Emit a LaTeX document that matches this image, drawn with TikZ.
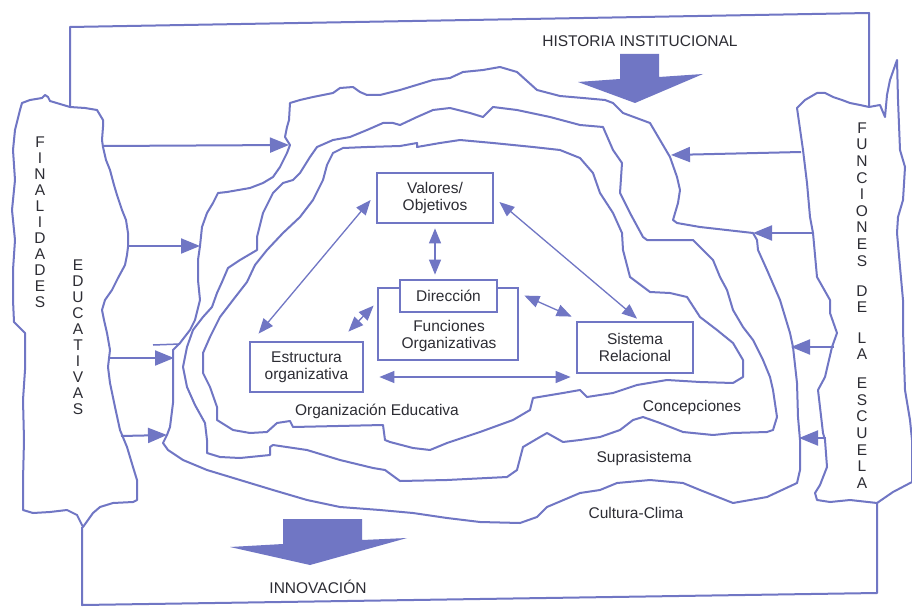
\documentclass[tikz,border=0pt]{standalone}
\usepackage{fontspec}
\setmainfont{Liberation Sans}
\usetikzlibrary{arrows.meta,calc}
\definecolor{ink}{RGB}{112,118,196}
\definecolor{txt}{RGB}{45,45,52}
\begin{document}
\begin{tikzpicture}[x=1pt,y=-1pt,
  outline/.style={draw=ink,line width=2pt,line join=round},
  feed/.style={draw=ink,line width=2pt,-{Triangle[length=19pt,width=15pt]}},
  link/.style={draw=ink,line width=1.3pt,{Triangle[length=15pt,width=12pt]}-{Triangle[length=15pt,width=12pt]}},
  txtfont/.style={text=txt,font=\fontsize{15.5}{17}\selectfont},
  box/.style={draw=ink,line width=2.8pt,fill=white,align=center,inner sep=0pt,txtfont},
  label/.style={txtfont,inner sep=0pt,align=center},
  letter/.style={txtfont,inner sep=0pt},
  bigarrow/.style={fill=ink}]

\useasboundingbox (0,0) rectangle (912,607);
\fill[white] (0,0) rectangle (912,607);

% outer frame
\draw[outline] (70,107) -- (70,27) -- (869,13) -- (869,107);
\draw[outline] (82,527) -- (82,605) -- (877,593) -- (877,503);

% left column: finalidades educativas
\draw[outline,fill=white] (22,103) -- (30,100) -- (42,98) -- (45,95) -- (48,97) -- (50,101) -- (60,104) -- (70,107) -- (85,108) -- (97,110) -- (103,120) -- (103,127) -- (102,140) -- (103,147) -- (106,160) -- (110,170) -- (114,185) -- (117,195) -- (122,210) -- (126,220) -- (128,233) -- (128,247) -- (127,255) -- (125,265) -- (118,278) -- (112,290) -- (105,300) -- (102,310) -- (104,320) -- (107,333) -- (110,350) -- (108,367) -- (110,383) -- (115,407) -- (120,430) -- (127,447) -- (133,467) -- (137,480) -- (137,500) -- (133,502) -- (113,503) -- (100,507) -- (93,513) -- (83,527) -- (77,515) -- (67,510) -- (50,512) -- (33,513) -- (23,510) -- (23,480) -- (24,440) -- (23,400) -- (25,370) -- (25,333) -- (14,322) -- (13,300) -- (13,270) -- (15,240) -- (12,210) -- (15,180) -- (13,150) -- (15,130) -- (20,110) -- cycle;

% right column: funciones de la escuela
\draw[outline,fill=white] (797,108) -- (805,100) -- (817,93) -- (825,93) -- (833,97) -- (842,100) -- (850,103) -- (860,105) -- (869,107) -- (880,105) -- (885,117) -- (887,95) -- (890,80) -- (897,60) -- (898,100) -- (900,150) -- (905,167) -- (903,200) -- (898,217) -- (897,233) -- (900,267) -- (903,300) -- (903,330) -- (905,390) -- (910,420) -- (912,440) -- (912,482) -- (893,492) -- (877,503) -- (850,500) -- (830,502) -- (817,500) -- (815,493) -- (820,485) -- (827,467) -- (825,440) -- (823,433) -- (818,390) -- (825,377) -- (832,347) -- (837,333) -- (830,313) -- (830,300) -- (817,277) -- (813,233) -- (810,217) -- (807,183) -- (803,150) -- cycle;

% outer contour (suprasistema)
\draw[outline] (290,103) -- (300,100) -- (313,97) -- (333,93) -- (340,88) -- (353,87) -- (360,92) -- (367,95) -- (380,95) -- (400,90) -- (433,80) -- (450,78) -- (463,72) -- (483,70) -- (500,67) -- (517,72) -- (537,90) -- (560,96) -- (583,98) -- (605,100) -- (613,103) -- (623,113) -- (650,123) -- (660,140) -- (670,157) -- (677,177) -- (680,190) -- (678,203) -- (673,220) -- (677,223) -- (700,227) -- (753,233) -- (757,240) -- (758,250) -- (767,270) -- (780,300) -- (790,333) -- (793,347) -- (797,383) -- (798,417) -- (800,440) -- (800,470) -- (797,483) -- (767,497) -- (733,503) -- (700,490) -- (683,483) -- (650,480) -- (617,483) -- (600,490) -- (580,493) -- (547,507) -- (537,517) -- (520,523) -- (480,522) -- (447,518) -- (413,513) -- (380,510) -- (340,507) -- (307,500) -- (273,490) -- (240,480) -- (207,470) -- (183,460) -- (168,450) -- (163,443) -- (167,435) -- (170,427) -- (173,403) -- (173,370) -- (173,350) -- (180,343) -- (190,330) -- (195,320) -- (200,300) -- (198,280) -- (198,260) -- (200,246) -- (202,227) -- (207,213) -- (213,203) -- (218,193) -- (227,192) -- (250,188) -- (263,183) -- (273,177) -- (280,167) -- (287,153) -- (290,145) -- (285,137) -- (287,127) -- (289,120) -- cycle;
\draw[ink,line width=1.5pt] (153,345) -- (180,344);

% middle contour (concepciones)
\draw[outline] (400,125) -- (417,117) -- (433,110) -- (450,108) -- (470,113) -- (483,117) -- (493,107) -- (517,110) -- (550,117) -- (580,125) -- (603,127) -- (613,150) -- (622,163) -- (620,193) -- (630,213) -- (643,237) -- (647,240) -- (693,240) -- (700,247) -- (713,260) -- (720,277) -- (727,290) -- (733,310) -- (743,327) -- (753,340) -- (763,360) -- (770,377) -- (773,390) -- (777,417) -- (773,430) -- (767,432) -- (733,433) -- (713,435) -- (683,432) -- (660,423) -- (643,417) -- (633,420) -- (620,430) -- (600,437) -- (580,440) -- (563,442) -- (547,433) -- (540,437) -- (523,447) -- (517,470) -- (507,477) -- (447,480) -- (400,481) -- (385,470) -- (373,468) -- (340,460) -- (307,450) -- (273,445) -- (270,447) -- (270,455) -- (240,458) -- (220,457) -- (207,453) -- (207,440) -- (205,423) -- (195,405) -- (187,387) -- (183,367) -- (187,347) -- (193,330) -- (203,317) -- (212,307) -- (217,293) -- (222,282) -- (228,268) -- (240,260) -- (257,250) -- (257,237) -- (263,213) -- (273,193) -- (283,183) -- (293,180) -- (300,173) -- (310,157) -- (317,147) -- (333,140) -- (350,137) -- (367,130) -- (383,123) -- (393,123) -- cycle;

% inner contour (organizacion educativa)
\draw[outline] (460,140) -- (493,143) -- (533,147) -- (560,150) -- (580,158) -- (593,173) -- (600,193) -- (613,213) -- (622,233) -- (623,250) -- (630,277) -- (650,292) -- (670,293) -- (687,297) -- (700,317) -- (717,330) -- (733,343) -- (743,360) -- (743,377) -- (733,383) -- (700,382) -- (667,380) -- (637,385) -- (613,393) -- (587,397) -- (580,390) -- (563,393) -- (533,398) -- (530,410) -- (513,420) -- (480,432) -- (447,443) -- (430,450) -- (413,448) -- (390,442) -- (385,440) -- (383,425) -- (293,427) -- (290,421) -- (277,423) -- (267,432) -- (250,433) -- (233,430) -- (217,420) -- (217,407) -- (210,387) -- (203,373) -- (203,353) -- (210,337) -- (220,317) -- (233,300) -- (247,282) -- (255,265) -- (267,250) -- (283,233) -- (300,217) -- (313,200) -- (323,180) -- (327,165) -- (333,153) -- (343,148) -- (367,147) -- (400,146) -- (417,143) -- (417,147) -- (440,143) -- cycle;

% big block arrows
\fill[bigarrow] (620,54) -- (659,54) -- (659,77) -- (703,74) -- (635,103) -- (578,82) -- (620,79) -- cycle;
\fill[bigarrow] (283,519) -- (362,519) -- (362,540) -- (407,538) -- (310,565) -- (230,547) -- (283,544) -- cycle;
\node[label,anchor=base] (hist) at (640,46.6) {HISTORIA INSTITUCIONAL};
\node[label,anchor=base] (innov) at (318,593.6) {INNOVACIÓN};

% region labels
\node[label,anchor=base] (orged) at (377,415.6) {Organización Educativa};
\node[label,anchor=base] (conc) at (692,411.6) {Concepciones};
\node[label,anchor=base] (supra) at (644,462.6) {Suprasistema};
\node[label,anchor=base] (cult) at (636,518.6) {Cultura-Clima};

% vertical column titles
\foreach \c [count=\i from 0] in {F,I,N,A,L,I,D,A,D,E,S}
  \node[letter] (fin\i) at (40,{142+16*\i}) {\c};
\foreach \c [count=\i from 0] in {E,D,U,C,A,T,I,V,A,S}
  \node[letter] (edu\i) at (78,{265+16*\i}) {\c};
\foreach \c [count=\i from 0] in {F,U,N,C,I,O,N,E,S}
  \node[letter] (fun\i) at (862,{128+16.6*\i}) {\c};
\foreach \c [count=\i from 0] in {D,E}
  \node[letter] (de\i) at (862,{291+16.6*\i}) {\c};
\foreach \c [count=\i from 0] in {L,A}
  \node[letter] (la\i) at (862,{338+16.6*\i}) {\c};
\foreach \c [count=\i from 0] in {E,S,C,U,E,L,A}
  \node[letter] (esc\i) at (862,{383+16.67*\i}) {\c};

% boxes
\node[box,minimum width=140pt,minimum height=72pt,text depth=0pt] (fun) at (448,324) {};
\node[label] (funtxt) at (449,336) {Funciones\\Organizativas};
\node[box,minimum width=97pt,minimum height=32pt] (dir) at (448.5,296) {Dirección};
\node[box,minimum width=116pt,minimum height=50pt] (val) at (435,198) {Valores/\\Objetivos};
\node[box,minimum width=113pt,minimum height=50pt] (est) at (306.5,367) {Estructura\\organizativa};
\node[box,minimum width=116pt,minimum height=51pt] (sis) at (635,347.5) {Sistema\\Relacional};

% relations between boxes
\draw[link] ($(val.west)+(-5,2)$) -- ($(est.north west)+(10,-7)$);
\draw[link] ($(val.south)+(0,4)$) -- ($(val.south |- dir.north)+(0,-4)$);
\draw[link] ($(val.east)+(5,4)$) -- ($(sis.north)+(2,-2)$);
\draw[link] ($(fun.north west)+(-3,19)$) -- ($(est.north east)+(-16,-9)$);
\draw[link] ($(fun.north east)+(5,9)$) -- ($(sis.north west)+(-4,-4)$);
\draw[link] ($(est.east)+(15,10)$) -- ($(sis.west |- est.east)+(-5,10)$);

% influences entering from the columns
\coordinate (fa) at (103,146); \coordinate (ca) at (289,145);
\coordinate (fb) at (128,246); \coordinate (cb) at (200,246);
\coordinate (fc) at (110,358); \coordinate (cc) at (174,358);
\coordinate (fd) at (121,436); \coordinate (cd) at (167,435);
\coordinate (ea) at (801,152); \coordinate (ka) at (671,155);
\coordinate (eb) at (812,233); \coordinate (kb) at (753,233);
\coordinate (ec) at (834,347); \coordinate (kc) at (791,347);
\coordinate (ed) at (826,438); \coordinate (kd) at (799,438);
\draw[feed] (fa) -- (ca);
\draw[feed] (fb) -- (cb);
\draw[feed] (fc) -- (cc);
\draw[feed] (fd) -- (cd);
\draw[feed] (ea) -- (ka);
\draw[feed] (eb) -- (kb);
\draw[feed] (ec) -- (kc);
\draw[feed] (ed) -- (kd);
\end{tikzpicture}
\end{document}
